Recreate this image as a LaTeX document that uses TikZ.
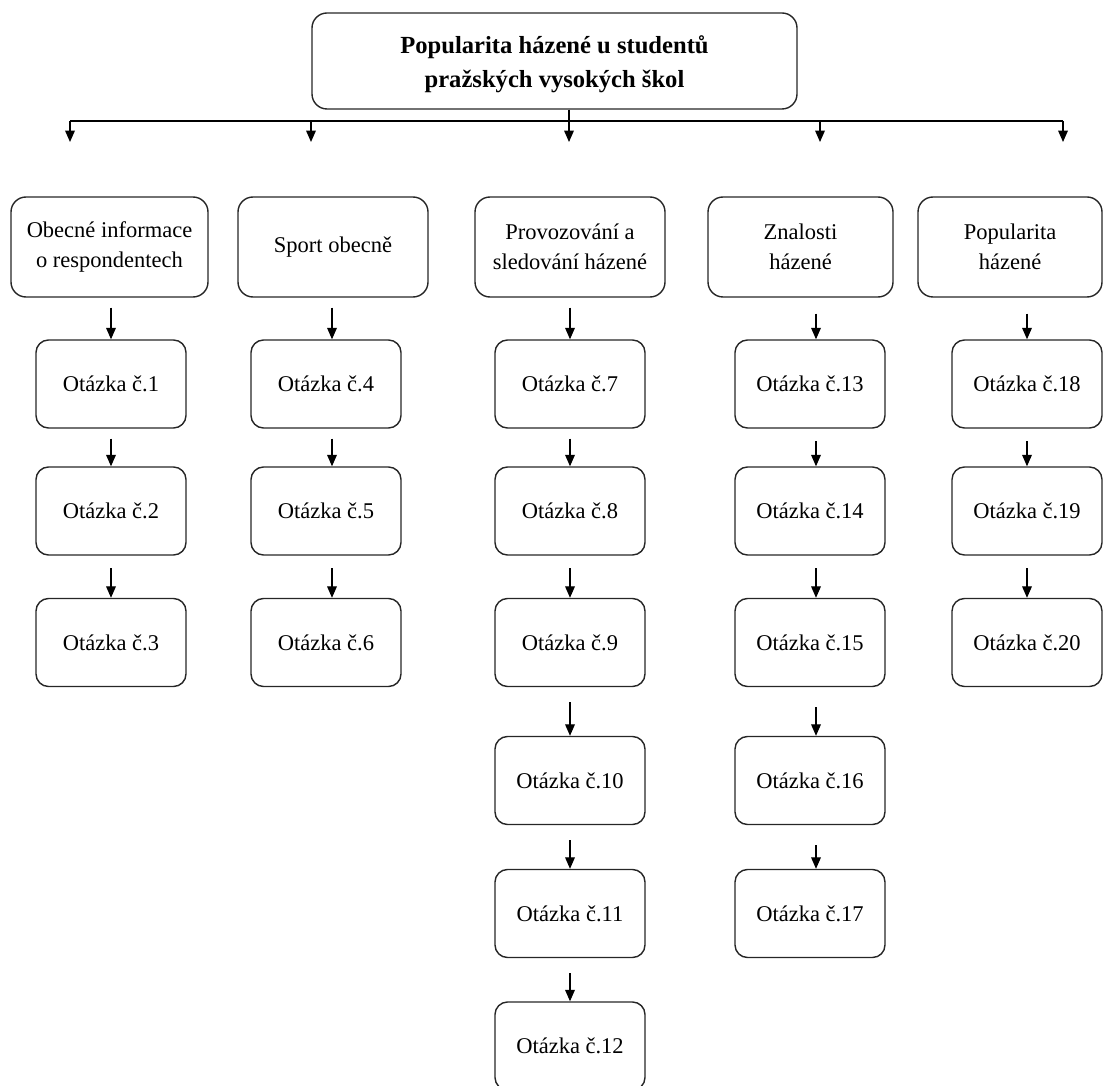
\documentclass[tikz,border=0pt]{standalone}
\usepackage{fontspec}
\setmainfont{Liberation Serif}
\usetikzlibrary{positioning}
\usetikzlibrary{calc}
\usetikzlibrary{arrows.meta}
\tikzset{
    titlebox/.style = {rectangle, rounded corners=0.3cm, draw=black!85, line width=0.8pt, align=center, minimum width=9.7cm, minimum height=1.92cm, font=\fontsize{14}{19.5}\selectfont\bfseries},
    catbox/.style = {rectangle, rounded corners=0.3cm, draw=black!85, line width=0.8pt, align=center, minimum height=2.0cm, font=\fontsize{12.8}{17}\selectfont},
    qbox/.style = {rectangle, rounded corners=0.25cm, draw=black!85, line width=0.8pt, minimum width=3.0cm, minimum height=1.76cm, font=\fontsize{12.8}{15}\selectfont},
    edgen/.style = {-{Triangle[length=6.5pt,width=5.5pt]}, line width=0.7pt},
    busline/.style = {line width=0.7pt}
}

\begin{document}
\begin{tikzpicture}
  \useasboundingbox (0,0) rectangle (22.06,-21.72);

  % hlavni box
  \node[titlebox] (title) at (11.09,-1.22) {};
  \node[font=\fontsize{14}{19.5}\selectfont\bfseries, align=center] (titletext) at (11.09,-1.28) {Popularita házené u studentů\\pražských vysokých škol};

  % rozvod
  \coordinate (b1) at ( 1.40,-2.42);
  \coordinate (b2) at ( 6.22,-2.42);
  \coordinate (b3) at (11.38,-2.42);
  \coordinate (b4) at (16.40,-2.42);
  \coordinate (b5) at (21.26,-2.42);
  \draw[busline] (title.south -| b3) -- (b3);
  \draw[busline] (b1) -- (b5);
  \foreach \i in {1,...,5}
    \draw[edgen] (b\i) -- ++(0,-0.42) coordinate (t\i);

  % okruhy
  \node[catbox, minimum width=3.94cm] (c1) at ( 2.19,-4.94) {Obecné informace\\o respondentech};
  \node[catbox, minimum width=3.80cm] (c2) at ( 6.66,-4.94) {Sport obecně};
  \node[catbox, minimum width=3.80cm] (c3) at (11.40,-4.94) {Provozování a\\sledování házené};
  \node[catbox, minimum width=3.70cm] (c4) at (16.01,-4.94) {Znalosti\\házené};
  \node[catbox, minimum width=3.68cm] (c5) at (20.20,-4.94) {Popularita\\házené};

  % otazky
  \node[qbox] (q1)  at ( 2.22, -7.68) {Otázka č.1};
  \node[qbox] (q2)  at ( 2.22,-10.22) {Otázka č.2};
  \node[qbox] (q3)  at ( 2.22,-12.85) {Otázka č.3};
  \node[qbox] (q4)  at ( 6.52, -7.68) {Otázka č.4};
  \node[qbox] (q5)  at ( 6.52,-10.22) {Otázka č.5};
  \node[qbox] (q6)  at ( 6.52,-12.85) {Otázka č.6};
  \node[qbox] (q7)  at (11.40, -7.68) {Otázka č.7};
  \node[qbox] (q8)  at (11.40,-10.22) {Otázka č.8};
  \node[qbox] (q9)  at (11.40,-12.85) {Otázka č.9};
  \node[qbox] (q10) at (11.40,-15.61) {Otázka č.10};
  \node[qbox] (q11) at (11.40,-18.27) {Otázka č.11};
  \node[qbox] (q12) at (11.40,-20.92) {Otázka č.12};
  \node[qbox] (q13) at (16.20, -7.68) {Otázka č.13};
  \node[qbox] (q14) at (16.20,-10.22) {Otázka č.14};
  \node[qbox] (q15) at (16.20,-12.85) {Otázka č.15};
  \node[qbox] (q16) at (16.20,-15.61) {Otázka č.16};
  \node[qbox] (q17) at (16.20,-18.27) {Otázka č.17};
  \node[qbox] (q18) at (20.54, -7.68) {Otázka č.18};
  \node[qbox] (q19) at (20.54,-10.22) {Otázka č.19};
  \node[qbox] (q20) at (20.54,-12.85) {Otázka č.20};

  % sipky mezi boxy
  \foreach \a/\b/\s/\g in {c1/q1/0/0.2, q1/q2/0/0.2, q2/q3/0/0.25,
      c2/q4/0.12/0.2, q4/q5/0.12/0.2, q5/q6/0.12/0.25,
      c3/q7/0/0.2, q7/q8/0/0.2, q8/q9/0/0.25, q9/q10/0/0.3, q10/q11/0/0.3, q11/q12/0/0.3,
      c4/q13/0.12/0.32, q13/q14/0.12/0.25, q14/q15/0.12/0.25, q15/q16/0.12/0.4, q16/q17/0.12/0.4,
      c5/q18/0/0.32, q18/q19/0/0.25, q19/q20/0/0.25}
    \draw[edgen] ($(\a.south -| \b.north)+(\s,-\g)$) -- ($(\b.north)+(\s,0)$);

\end{tikzpicture}
\end{document}
